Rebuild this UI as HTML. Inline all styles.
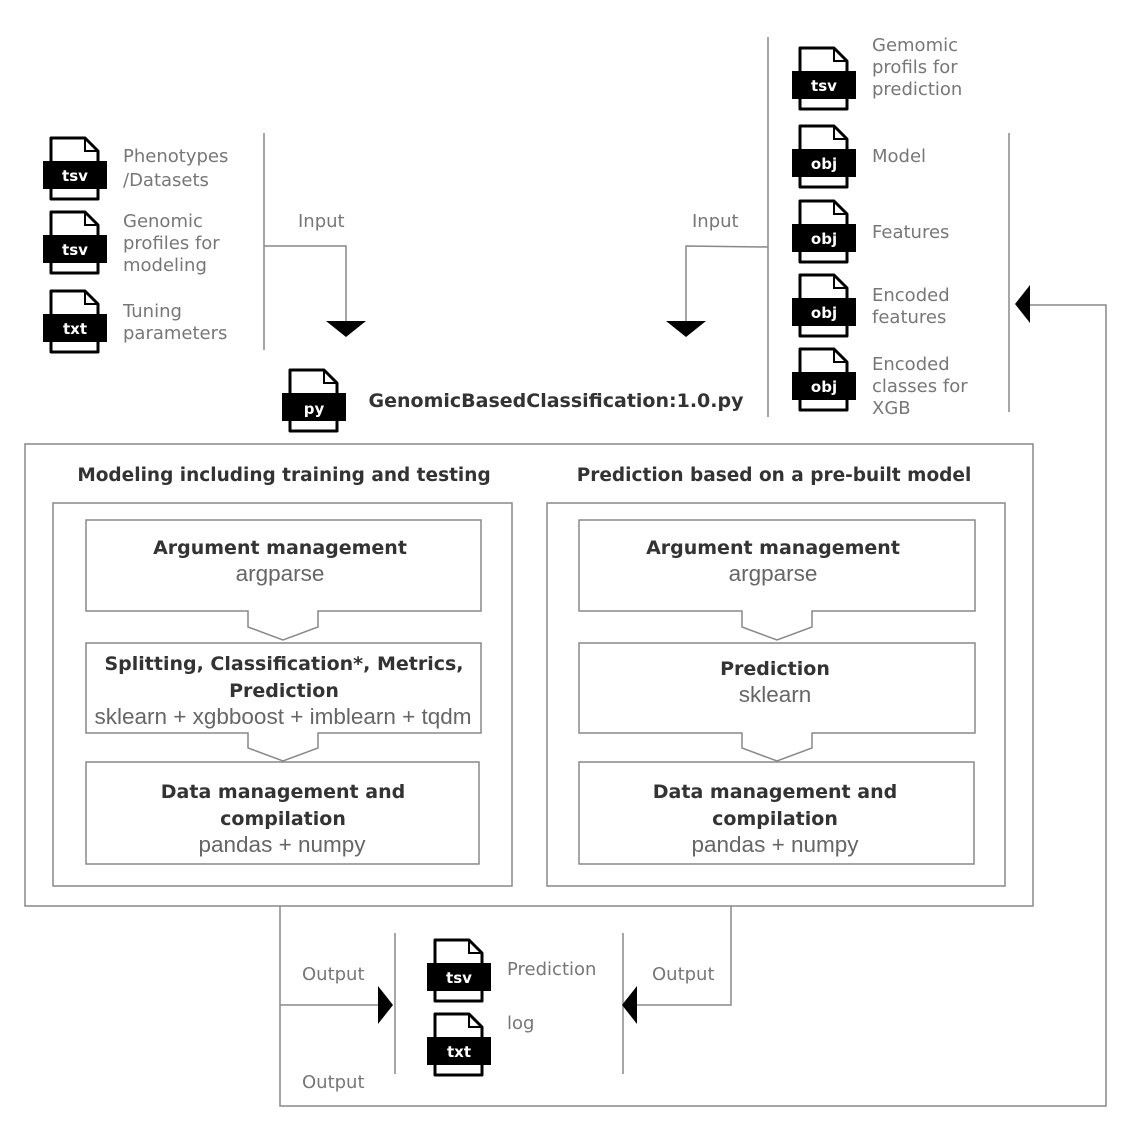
<!DOCTYPE html>
<html><head><meta charset="utf-8"><style>html,body{margin:0;padding:0;background:#fff}svg{display:block}</style></head><body>
<svg width="1134" height="1134" viewBox="0 0 1134 1134" xmlns="http://www.w3.org/2000/svg">
<defs>
<g id="ic">
<path d="M8,-23 H42 L55,-10 V38 H8 Z" fill="#fff" stroke="#000" stroke-width="3" stroke-linejoin="round"/>
<path d="M42,-23 V-10 H55" fill="none" stroke="#000" stroke-width="2"/>
<rect x="0" y="0" width="64" height="28" fill="#000"/>
</g>
</defs>
<g fill="none" stroke="#888" stroke-width="1.5">
<line x1="264" y1="133" x2="264" y2="350"/>
<polyline points="264,246 346,246 346,324"/>
<line x1="768" y1="37" x2="768" y2="417"/>
<polyline points="768,247 686,246 686,324"/>
<line x1="1009" y1="133" x2="1009" y2="412"/>
<polyline points="280,906 280,1106 1106,1106 1106,305 1028,305"/>
<rect x="25" y="444" width="1008" height="462"/>
<rect x="53" y="503" width="459" height="383"/>
<rect x="547" y="503" width="458" height="383"/>
<path d="M86,611 V520 H481 V611 H318 V627 L283,640 L248,627 V611 Z"/>
<path d="M86,733 V643 H481 V733 H318 V748 L283,761 L248,748 V733 Z"/>
<rect x="86" y="762" width="393" height="102"/>
<path d="M579,611 V520 H975 V611 H812 V627 L777,640 L742,627 V611 Z"/>
<path d="M579,733 V643 H975 V733 H812 V748 L777,761 L742,748 V733 Z"/>
<rect x="579" y="762" width="395" height="102"/>
<line x1="395" y1="933" x2="395" y2="1074"/>
<line x1="623" y1="933" x2="623" y2="1074"/>
<line x1="280" y1="1005" x2="380" y2="1005"/>
<polyline points="731,906 731,1005 636,1005"/>
</g>
<g fill="#000">
<polygon points="326,321 366,321 346,337"/>
<polygon points="666,321 706,321 686,337"/>
<polygon points="1030,285 1030,323 1015,304"/>
<polygon points="378,986 378,1024 393,1005"/>
<polygon points="637,986 637,1024 622,1005"/>
</g>
<use href="#ic" x="43" y="161"/>
<use href="#ic" x="43" y="235"/>
<use href="#ic" x="43" y="314"/>
<use href="#ic" x="282" y="393"/>
<use href="#ic" x="792" y="71"/>
<use href="#ic" x="792" y="149"/>
<use href="#ic" x="792" y="224"/>
<use href="#ic" x="792" y="298"/>
<use href="#ic" x="792" y="372"/>
<use href="#ic" x="427" y="963"/>
<use href="#ic" x="427" y="1037"/>
<g fill="#fff" font-family="DejaVu Sans, sans-serif" font-weight="bold" font-size="15" text-anchor="middle">
<text x="75" y="181">tsv</text><text x="75" y="255">tsv</text><text x="75" y="334">txt</text>
<text x="314" y="414">py</text>
<text x="824" y="91">tsv</text><text x="824" y="169">obj</text><text x="824" y="244">obj</text><text x="824" y="318">obj</text><text x="824" y="392">obj</text>
<text x="459" y="983">tsv</text><text x="459" y="1057">txt</text>
</g>
<g fill="#777" font-family="DejaVu Sans, sans-serif" font-size="18">
<text x="123" y="162">Phenotypes</text><text x="123" y="186">/Datasets</text>
<text x="123" y="227">Genomic</text><text x="123" y="249">profiles for</text><text x="123" y="271">modeling</text>
<text x="123" y="317">Tuning</text><text x="123" y="339">parameters</text>
<text x="298" y="227">Input</text><text x="692" y="227">Input</text>
<text x="872" y="51">Gemomic</text><text x="872" y="73">profils for</text><text x="872" y="95">prediction</text>
<text x="872" y="162">Model</text><text x="872" y="238">Features</text>
<text x="872" y="301">Encoded</text><text x="872" y="323">features</text>
<text x="872" y="370">Encoded</text><text x="872" y="392">classes for</text><text x="872" y="414">XGB</text>
<text x="302" y="980">Output</text><text x="302" y="1088">Output</text><text x="652" y="980">Output</text>
<text x="507" y="975">Prediction</text><text x="507" y="1029">log</text>
</g>
<g fill="#333" font-family="DejaVu Sans, sans-serif" font-weight="bold" text-anchor="middle">
<text x="556" y="407" font-size="19">GenomicBasedClassification:1.0.py</text>
<text x="284" y="481" font-size="18.5">Modeling including training and testing</text>
<text x="774" y="481" font-size="18.5">Prediction based on a pre-built model</text>
<g font-size="19">
<text x="280" y="554">Argument management</text>
<text x="284" y="670">Splitting, Classification*, Metrics,</text>
<text x="284" y="697">Prediction</text>
<text x="283" y="798">Data management and</text>
<text x="283" y="825">compilation</text>
<text x="773" y="554">Argument management</text>
<text x="775" y="675">Prediction</text>
<text x="775" y="798">Data management and</text>
<text x="775" y="825">compilation</text>
</g>
</g>
<g fill="#666" font-family="Liberation Sans, sans-serif" font-size="22.5" text-anchor="middle">
<text x="280" y="581">argparse</text>
<text x="283" y="724">sklearn + xgbboost + imblearn + tqdm</text>
<text x="282" y="852">pandas + numpy</text>
<text x="773" y="581">argparse</text>
<text x="775" y="702">sklearn</text>
<text x="775" y="852">pandas + numpy</text>
</g>
</svg>
</body></html>
